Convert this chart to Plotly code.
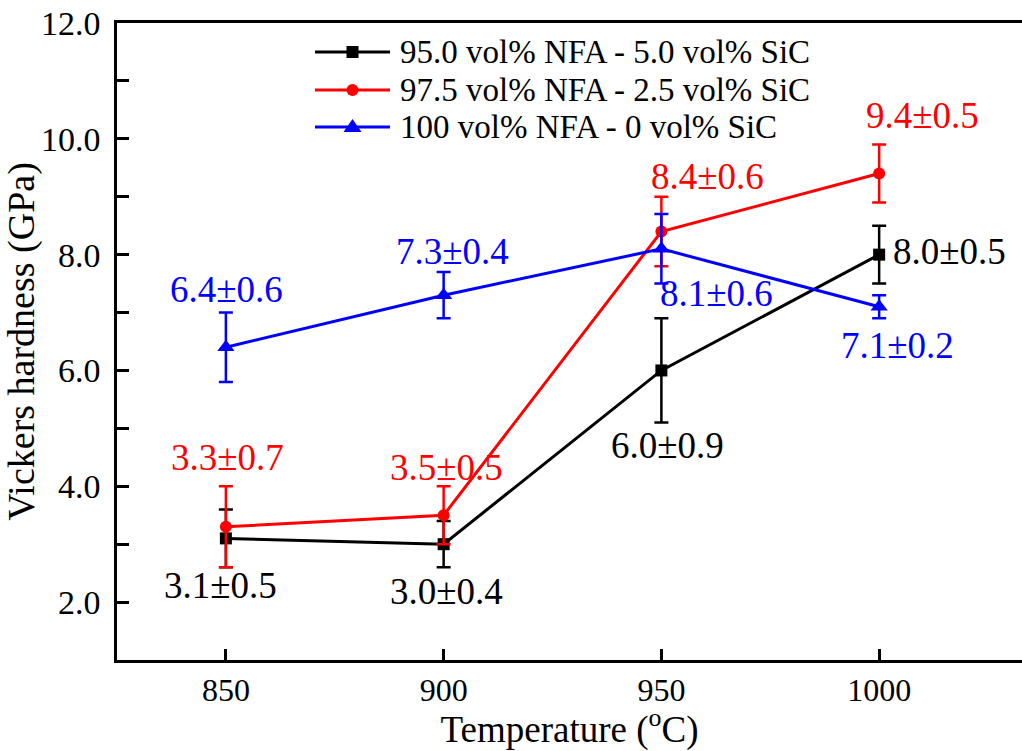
import plotly.graph_objects as go

temps = [850, 900, 950, 1000]

names = ["95.0 vol% NFA - 5.0 vol% SiC",
         "97.5 vol% NFA - 2.5 vol% SiC",
         "100 vol% NFA - 0 vol% SiC"]
h_95 = [3.1, 3.0, 6.0, 8.0]
e_95 = [0.5, 0.4, 0.9, 0.5]
h_975 = [3.3, 3.5, 8.4, 9.4]
e_975 = [0.7, 0.5, 0.6, 0.5]
h_100 = [6.4, 7.3, 8.1, 7.1]
e_100 = [0.6, 0.4, 0.6, 0.2]

colors = ["#000000", "#ff0000", "#0000ff"]
symbols = ["square", "circle", "triangle-up"]
msizes = [12, 12, 15]

# label pixel offsets (style only)
shifts = [
    [(-5, -47), (3, -47), (6, -75), (70, 3)],
    [(2, 69), (3, 48), (46, 55), (43, 58)],
    [(1, 58), (9, 44), (55, -45), (18, -39)],
]

FONT = "Liberation Serif, Times New Roman, serif"

# plot-area geometry in pixels (for the hand-made legend)
L, R, T, B = 117, 1022, 23, 660


def px(p):
    return (p - L) / (R - L)


def py(p):
    return (B - p) / (B - T)


fig = go.Figure()
series = [(h_95, e_95), (h_975, e_975), (h_100, e_100)]
for i, (vals, errs) in enumerate(series):
    fig.add_trace(go.Scatter(
        x=temps, y=vals, name=names[i], mode="lines+markers",
        line=dict(color=colors[i], width=3),
        marker=dict(symbol=symbols[i], size=msizes[i], color=colors[i]),
        error_y=dict(type="data", array=errs, visible=True,
                     color=colors[i], thickness=2.5, width=7),
        showlegend=False,
    ))

annotations = []
for i, (vals, errs) in enumerate(series):
    for j, (t, v, e) in enumerate(zip(temps, vals, errs)):
        xs, ys = shifts[i][j]
        annotations.append(dict(
            x=t, y=v, xref="x", yref="y", text=f"{v:.1f}±{e:.1f}",
            showarrow=False, xshift=xs, yshift=ys,
            font=dict(family=FONT, size=37, color=colors[i]),
            xanchor="center", yanchor="middle"))

# hand-made legend (line sample + marker + label)
shapes = []
rows = [52, 90, 127]
x0, x1, xt = 315, 390, 398
xm = (x0 + x1) / 2
for i, name in enumerate(names):
    yr = rows[i]
    shapes.append(dict(type="line", xref="paper", yref="paper",
                       x0=px(x0), x1=px(x1), y0=py(yr), y1=py(yr),
                       line=dict(color=colors[i], width=3)))
    if symbols[i] == "square":
        shapes.append(dict(type="rect", xref="paper", yref="paper",
                           xsizemode="pixel", ysizemode="pixel",
                           xanchor=px(xm), yanchor=py(yr),
                           x0=-6, x1=6, y0=-6, y1=6,
                           fillcolor=colors[i], line=dict(width=0)))
    elif symbols[i] == "circle":
        shapes.append(dict(type="circle", xref="paper", yref="paper",
                           xsizemode="pixel", ysizemode="pixel",
                           xanchor=px(xm), yanchor=py(yr),
                           x0=-6, x1=6, y0=-6, y1=6,
                           fillcolor=colors[i], line=dict(width=0)))
    else:
        shapes.append(dict(type="path", xref="paper", yref="paper",
                           xsizemode="pixel", ysizemode="pixel",
                           xanchor=px(xm), yanchor=py(yr),
                           path="M-9,-5 L9,-5 L0,8 Z",
                           fillcolor=colors[i], line=dict(width=0)))
    annotations.append(dict(x=px(xt), y=py(yr), xref="paper", yref="paper",
                            text=name, showarrow=False,
                            xanchor="left", yanchor="middle",
                            font=dict(family=FONT, size=33, color="black")))

fig.update_layout(
    width=1022, height=751,
    margin=dict(l=L, r=1022 - R, t=T, b=751 - B),
    paper_bgcolor="white", plot_bgcolor="white",
    font=dict(family=FONT, color="black"),
    annotations=annotations,
    shapes=shapes,
    showlegend=False,
    xaxis=dict(range=[825, 1032.8], tickvals=temps,
               ticktext=[str(t) for t in temps],
               ticks="inside", ticklen=11, tickwidth=2.5, tickcolor="black",
               showline=True, linewidth=2.5, linecolor="black", mirror=True,
               showgrid=False, zeroline=False,
               tickfont=dict(family=FONT, size=32, color="black"),
               ticklabelstandoff=0,
               title=dict(text="Temperature (<sup>o</sup>C)",
                          font=dict(family=FONT, size=37, color="black"),
                          standoff=0)),
    yaxis=dict(range=[1.0, 12.0], tickvals=[2, 4, 6, 8, 10, 12],
               ticktext=["2.0", "4.0", "6.0", "8.0", "10.0", "12.0"],
               ticks="inside", ticklen=12, tickwidth=2.5, tickcolor="black",
               minor=dict(tickvals=[3, 5, 7, 9, 11], ticks="inside",
                          ticklen=12, tickwidth=2.5, tickcolor="black"),
               showline=True, linewidth=2.5, linecolor="black", mirror=False,
               showgrid=False, zeroline=False,
               tickfont=dict(family=FONT, size=34, color="black"),
               ticklabelstandoff=7,
               title=dict(text="Vickers hardness (GPa)",
                          font=dict(family=FONT, size=38, color="black"),
                          standoff=6)),
)

fig.write_html("out.html")
